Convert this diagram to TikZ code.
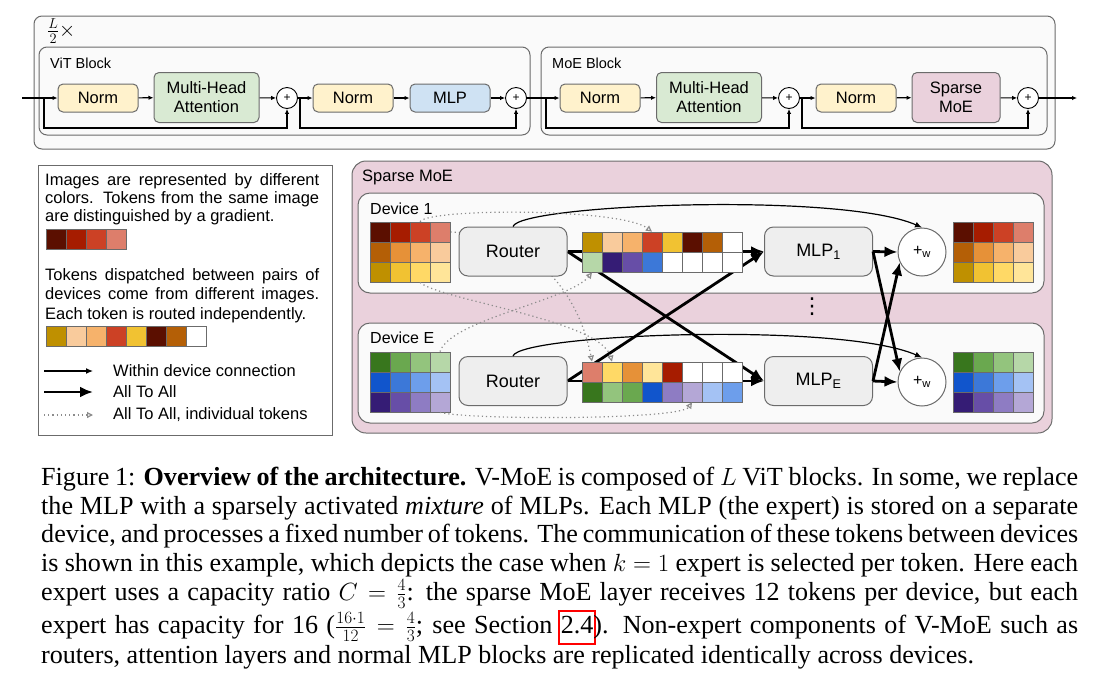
\documentclass[tikz,border=0pt]{standalone}
\usepackage{fontspec}
\setmainfont{Liberation Serif}
\setsansfont{Liberation Sans}
\newfontfamily\symbolfont{DejaVu Sans}
\usetikzlibrary{arrows.meta,positioning}

\definecolor{normfill}{HTML}{FFF2CC}
\definecolor{attnfill}{HTML}{D9EAD3}
\definecolor{mlpfill}{HTML}{CFE2F3}
\definecolor{moefill}{HTML}{EAD1DC}
\definecolor{panelfill}{HTML}{FAFAFA}
\definecolor{opfill}{HTML}{EEEEEE}
\definecolor{edge}{HTML}{6B6B6B}
\definecolor{dotline}{HTML}{8C8C8C}
% token colours, one family per image
\definecolor{r1}{HTML}{5B0F00}\definecolor{r2}{HTML}{A61C00}\definecolor{r3}{HTML}{CC4125}\definecolor{r4}{HTML}{DD7E6B}
\definecolor{o1}{HTML}{B45F06}\definecolor{o2}{HTML}{E69138}\definecolor{o3}{HTML}{F6B26B}\definecolor{o4}{HTML}{F9CB9C}
\definecolor{y1}{HTML}{BF9000}\definecolor{y2}{HTML}{F1C232}\definecolor{y3}{HTML}{FFD966}\definecolor{y4}{HTML}{FFE599}
\definecolor{g1}{HTML}{38761D}\definecolor{g2}{HTML}{6AA84F}\definecolor{g3}{HTML}{93C47D}\definecolor{g4}{HTML}{B6D7A8}
\definecolor{b1}{HTML}{1155CC}\definecolor{b2}{HTML}{3C78D8}\definecolor{b3}{HTML}{6D9EEB}\definecolor{b4}{HTML}{A4C2F4}
\definecolor{p1}{HTML}{351C75}\definecolor{p2}{HTML}{674EA7}\definecolor{p3}{HTML}{8E7CC3}\definecolor{p4}{HTML}{B4A7D6}

\pgfdeclarelayer{bg}
\pgfdeclarelayer{mid}
\pgfsetlayers{bg,mid,main}

% a row of tokens: name, left, top, colours
\newcommand\tokenrow[4]{%
  \foreach \col [count=\i from 0] in {#4}
    \node[token, fill=\col] (#1-\i) at ({#2+20*\i+10},{#3+10}) {};}
% red frame of a reference link
\newcommand\linkbox[1]{\rlap{\kern-3pt\textcolor{red}{\setlength\fboxsep{1pt}\setlength\fboxrule{2pt}\fbox{\strut\phantom{#1}}}}#1}

\begin{document}
\begin{tikzpicture}[x=1pt, y=-1pt,
    font=\sffamily\fontsize{16.5}{19}\selectfont,
    panel/.style={draw=edge, line width=1pt, fill=panelfill, rounded corners=8pt},
    block/.style={draw=edge, line width=1pt, rounded corners=5pt, minimum width=80pt, minimum height=28pt, inner sep=1pt, align=center},
    wide/.style={block, minimum width=105pt, minimum height=50pt},
    op/.style={draw=edge, line width=1pt, fill=opfill, rounded corners=9pt, minimum width=108pt, minimum height=49pt, font=\sffamily\fontsize{18}{20}\selectfont},
    plus/.style={circle, draw, fill=white, line width=0.9pt, minimum size=21pt, inner sep=0pt, font=\sffamily\fontsize{12}{12}\selectfont},
    wsum/.style={circle, draw=edge, fill=white, line width=1pt, minimum size=48pt, inner sep=0pt, font=\sffamily\fontsize{16}{16}\selectfont},
    token/.style={draw=edge, line width=0.8pt, minimum size=20pt, inner sep=0pt},
    tag/.style={anchor=west, inner sep=0pt},
    note/.style={anchor=north west, text width=274pt, align=justify, inner sep=0pt},
    flow/.style={line width=1.1pt, -{Latex[length=5pt,width=4.5pt]}},
    local/.style={line width=1.2pt, -{Latex[length=7pt,width=6pt]}},
    alltoall/.style={line width=2.8pt, -{Latex[length=13pt,width=11pt]}},
    tokenpath/.style={draw=dotline, line width=1.2pt, dash pattern=on 1.2pt off 3pt, -{Triangle[open,length=6pt,width=6pt]}},
  ]
\useasboundingbox (0,0) rectangle (1099,681);

% panels
\begin{pgfonlayer}{bg}
  \draw[panel] (34,16) rectangle (1055,149);
  \draw[panel] (39,47) rectangle (530,135);
  \draw[panel] (541,47) rectangle (1047,135);
  \draw[panel, fill=moefill, rounded corners=14pt] (352,161) rectangle (1052,433);
  \draw[panel, rounded corners=12pt] (358,193) rectangle (1044,293);
  \draw[panel, rounded corners=12pt] (358,323) rectangle (1044,423);
  \draw[draw=edge, line width=1pt, fill=white] (38,165) rectangle (332,435);
\end{pgfonlayer}

% L/2 times ViT block + MoE block
\node[tag, font=\fontsize{22}{24}\selectfont] (times) at (47,31) {$\frac{L}{2}\times$};
\node[tag, font=\sffamily\fontsize{14.5}{16}\selectfont] (vitlabel) at (50,63) {ViT Block};
\node[tag, font=\sffamily\fontsize{14.5}{16}\selectfont] (moelabel) at (552,63) {MoE Block};

\coordinate (in) at (22,98);
\node[block, fill=normfill] (norm1) at (98,98) {Norm};
\node[wide, fill=attnfill, inner sep=0pt] (attn1) at (206.5,97.5) {Multi-Head\\Attention};
\node[plus] (add1) at (287,98) {+};
\node[block, fill=normfill] (norm2) at (353,98) {Norm};
\node[block, fill=mlpfill] (mlp) at (450,98) {MLP};
\node[plus] (add2) at (516,98) {+};
\node[block, fill=normfill] (norm3) at (600,98) {Norm};
\node[wide, fill=attnfill, inner sep=0pt] (attn2) at (709,97.5) {Multi-Head\\Attention};
\node[plus] (add3) at (789,98) {+};
\node[block, fill=normfill] (norm4) at (856,98) {Norm};
\node[wide, fill=moefill, minimum width=88pt, inner sep=0pt] (moe) at (956,97.5) {Sparse\\MoE};
\node[plus] (add4) at (1028,98) {+};
\coordinate (out) at (1077,98);

\draw[flow] (in) -- (norm1);
\draw[flow] (norm1) -- (attn1);
\draw[flow] (attn1) -- (add1);
\draw[flow] (add1) -- (norm2);
\draw[flow] (norm2) -- (mlp);
\draw[flow] (mlp) -- (add2);
\draw[flow] (add2) -- (norm3);
\draw[flow] (norm3) -- (attn2);
\draw[flow] (attn2) -- (add3);
\draw[flow] (add3) -- (norm4);
\draw[flow] (norm4) -- (moe);
\draw[flow] (moe) -- (add4);
\draw[flow] (add4) -- (out);

% residual connections
\coordinate (skip1) at (44,98);
\coordinate (skip2) at (300,98);
\coordinate (skip3) at (546,98);
\coordinate (skip4) at (802,98);
\draw[flow] (skip1) -- ++(0,30) -| (add1.south);
\draw[flow] (skip2) -- ++(0,30) -| (add2.south);
\draw[flow] (skip3) -- ++(0,30) -| (add3.south);
\draw[flow] (skip4) -- ++(0,30) -| (add4.south);

% sparse MoE layer
\node[tag] (moetitle) at (362,177) {Sparse MoE};
\node[tag, font=\sffamily\fontsize{16}{18}\selectfont] (dev1label) at (370,209) {Device 1};
\node[tag, font=\sffamily\fontsize{16}{18}\selectfont] (devElabel) at (370,338) {Device E};
\node[font=\symbolfont\fontsize{22}{22}\selectfont, inner sep=0pt] (vdots) at (812,307) {⋮};

\tokenrow{in1a}{370}{222}{r1,r2,r3,r4}
\tokenrow{in1b}{370}{242}{o1,o2,o3,o4}
\tokenrow{in1c}{370}{262}{y1,y2,y3,y4}
\tokenrow{inEa}{370}{352}{g1,g2,g3,g4}
\tokenrow{inEb}{370}{372}{b1,b2,b3,b4}
\tokenrow{inEc}{370}{392}{p1,p2,p3,p4}

\node[op] (router1) at (513,251.5) {Router};
\node[op] (routerE) at (513,381) {Router};

\tokenrow{d1a}{582}{232}{y1,o4,o3,r3,y2,r1,o1,white}
\tokenrow{d1b}{582}{252}{g4,p1,p2,b2,white,white,white,white}
\tokenrow{dEa}{582}{362}{r4,y3,o2,y4,r2,white,white,white}
\tokenrow{dEb}{582}{382}{g1,g3,g2,b1,p3,p4,b4,b3}

\node[op] (mlp1) at (818.5,251.5) {MLP\textsubscript{1}};
\node[op] (mlpE) at (818.5,381) {MLP\textsubscript{E}};
\node[wsum] (sum1) at (922,252) {+\textsubscript{w}};
\node[wsum] (sumE) at (922,382) {+\textsubscript{w}};

\tokenrow{out1a}{953}{222}{r1,r2,r3,r4}
\tokenrow{out1b}{953}{242}{o1,o2,o3,o4}
\tokenrow{out1c}{953}{262}{y1,y2,y3,y4}
\tokenrow{outEa}{953}{352}{g1,g2,g3,g4}
\tokenrow{outEb}{953}{372}{b1,b2,b3,b4}
\tokenrow{outEc}{953}{392}{p1,p2,p3,p4}

\begin{pgfonlayer}{mid}
  \draw[alltoall] (router1.east) -- (mlp1.west);
  \draw[alltoall] (router1.east) -- (mlpE.west);
  \draw[alltoall] (routerE.east) -- (mlp1.west);
  \draw[alltoall] (routerE.east) -- (mlpE.west);
  \draw[tokenpath] (in1a-3.east) .. controls (540,235) and (580,300) .. (dEa-0.north);
\end{pgfonlayer}

\draw[local] (router1.north) .. controls +(7,-22) and +(-82,-36) .. (sum1.north);
\draw[local] (routerE.north) .. controls +(7,-22) and +(-82,-36) .. (sumE.north);
\draw[alltoall] (mlp1.east) -- (sum1.west);
\draw[alltoall] (mlp1.east) -- (sumE.155);
\draw[alltoall] (mlpE.east) -- (sumE.west);
\draw[alltoall] (mlpE.east) -- (sum1.205);

\draw[tokenpath] (in1a-2.north) .. controls (430,208) and (620,208) .. (d1a-3.north);
\draw[tokenpath] (in1c-2.south) .. controls (440,300) and (600,320) .. (dEa-1.north);
\draw[tokenpath] (inEa-3.north) .. controls (450,320) and (570,300) .. (d1b-0.south);
\draw[tokenpath] (inEc-3.south) .. controls (470,420) and (680,420) .. (dEb-5.south);

% legend
\node[note, font=\sffamily\fontsize{16.5}{18}\selectfont] (note1) at (45,173)
  {Images are represented by different colors. Tokens from the same image are distinguished by a gradient.};
\tokenrow{key1}{46}{229}{r1,r2,r3,r4}
\node[note, font=\sffamily\fontsize{16.5}{19.5}\selectfont] (note2) at (45,268)
  {Tokens dispatched between pairs of devices come from different images. Each token is routed independently.};
\tokenrow{key2}{46}{326}{y1,o4,o3,r3,y2,r1,o1,white}

\coordinate (k1a) at (44,371); \coordinate (k1b) at (93,371);
\coordinate (k2a) at (44,392); \coordinate (k2b) at (93,392);
\coordinate (k3a) at (44,415); \coordinate (k3b) at (93,415);
\draw[local] (k1a) -- (k1b);
\draw[alltoall] (k2a) -- (k2b);
\draw[tokenpath] (k3a) -- (k3b);
\node[tag] (k1text) at (113,371) {Within device connection};
\node[tag] (k2text) at (113,392) {All To All};
\node[tag] (k3text) at (113,415) {All To All, individual tokens};

% caption
\node[anchor=north west, text width=1037pt, align=justify, inner sep=0pt, font=\rmfamily\fontsize{26.1}{28.7}\selectfont] (caption) at (41,467)
  {Figure 1: \textbf{Overview of the architecture.} V-MoE is composed of $L$ ViT blocks. In some, we replace\linebreak
   the MLP with a sparsely activated \textit{mixture} of MLPs. Each MLP (the expert) is stored on a separate\linebreak
   device, and processes a fixed number of tokens. The communication of these tokens between devices\linebreak
   is shown in this example, which depicts the case when $k=1$ expert is selected per token. Here each\linebreak
   expert uses a capacity ratio $C=\frac{4}{3}$: the sparse MoE layer receives 12 tokens per device, but each\linebreak
   expert has capacity for 16 ($\frac{16\cdot 1}{12}=\frac{4}{3}$; see Section \linkbox{2.4}). Non-expert components of V-MoE such as\linebreak
   routers, attention layers and normal MLP blocks are replicated identically across devices.};
\end{tikzpicture}
\end{document}
